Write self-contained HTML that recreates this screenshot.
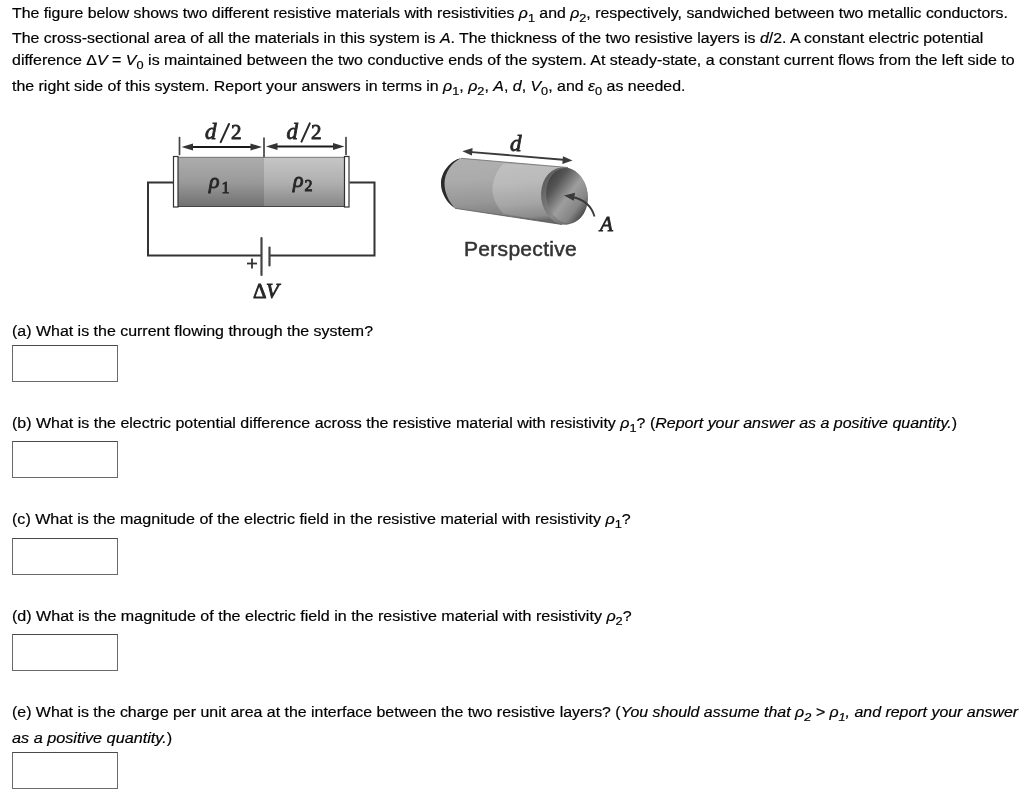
<!DOCTYPE html>
<html><head><meta charset="utf-8">
<style>
html,body{margin:0;padding:0;background:#fff;}
body{filter:grayscale(1);}
body{width:1024px;height:800px;position:relative;overflow:hidden;font-family:"Liberation Sans",sans-serif;color:#000;}
.ln{position:absolute;left:12px;white-space:nowrap;font-size:14px;line-height:16px;transform-origin:0 0;-webkit-text-stroke:0.18px #000;}
.m{font-style:italic;}
sub{font-size:80%;vertical-align:-4px;line-height:0;}
.box{position:absolute;left:12px;width:104px;height:35px;border:1px solid #6a6a6a;border-top-color:#4a4a4a;}
.lab{position:absolute;white-space:nowrap;font-family:"Liberation Serif",serif;color:#333;line-height:20px;-webkit-text-stroke:0.6px #333;}
.lab i{font-style:italic;}
</style></head><body>
<svg id="fig" width="1024" height="800" style="position:absolute;left:0;top:0">
<defs>
<linearGradient id="g1" x1="0" y1="0" x2="0" y2="1">
<stop offset="0" stop-color="#adadad"/><stop offset="0.5" stop-color="#9a9a9a"/><stop offset="1" stop-color="#707070"/></linearGradient>
<linearGradient id="g2" x1="0" y1="0" x2="0" y2="1">
<stop offset="0" stop-color="#c6c6c6"/><stop offset="0.5" stop-color="#b0b0b0"/><stop offset="1" stop-color="#868686"/></linearGradient>
<linearGradient id="pb" x1="0" y1="0" x2="0.12" y2="1">
<stop offset="0" stop-color="#b0b0b0"/><stop offset="0.35" stop-color="#ababab"/><stop offset="0.7" stop-color="#969696"/><stop offset="0.92" stop-color="#7e7e7e"/><stop offset="1" stop-color="#5e5e5e"/></linearGradient>
<linearGradient id="pb2" x1="0" y1="0" x2="0.12" y2="1">
<stop offset="0" stop-color="#c0c0c0"/><stop offset="0.35" stop-color="#bababa"/><stop offset="0.7" stop-color="#a5a5a5"/><stop offset="0.92" stop-color="#8c8c8c"/><stop offset="1" stop-color="#686868"/></linearGradient>
<linearGradient id="rim" x1="0" y1="0" x2="1" y2="1">
<stop offset="0" stop-color="#4a4a4a"/><stop offset="0.5" stop-color="#8a8a8a"/><stop offset="1" stop-color="#4a4a4a"/></linearGradient>
<linearGradient id="cap" x1="0.1" y1="0.05" x2="0.8" y2="0.95">
<stop offset="0" stop-color="#3a3a3a"/><stop offset="0.25" stop-color="#565656"/><stop offset="0.55" stop-color="#9e9e9e"/><stop offset="0.8" stop-color="#858585"/><stop offset="1" stop-color="#404040"/></linearGradient>
</defs>
<!-- circuit wires -->
<g fill="none" stroke="#333" stroke-width="2">
<path d="M173 182.5 H148 V255.5 H261.5"/>
<path d="M349.5 182.5 H374.5 V255.5 H270"/>
</g>
<g stroke="#444" stroke-width="2.2" stroke-linecap="round">
<line x1="261.5" y1="238" x2="261.5" y2="275"/>
<line x1="269.5" y1="247.5" x2="269.5" y2="265.5"/>
</g>
<g stroke="#333" stroke-width="1.8"><line x1="247" y1="263.5" x2="257" y2="263.5"/><line x1="252" y1="258.5" x2="252" y2="268.5"/></g>
<!-- cylinder -->
<rect x="178" y="157" width="86" height="50" fill="url(#g1)"/>
<rect x="264" y="157" width="81" height="50" fill="url(#g2)"/>
<line x1="178" y1="157.3" x2="345" y2="157.3" stroke="#666" stroke-width="0.8"/>
<line x1="178" y1="206.5" x2="345" y2="206.5" stroke="#444" stroke-width="1"/>
<rect x="173.5" y="156.5" width="4.5" height="50.5" fill="#fff" stroke="#333" stroke-width="1.2"/>
<rect x="344.5" y="156.5" width="4.5" height="50.5" fill="#fff" stroke="#333" stroke-width="1.2"/>
<!-- dimension -->
<g stroke="#444" stroke-width="1.7" stroke-linecap="round">
<line x1="179.5" y1="137.5" x2="179.5" y2="154.5"/>
<line x1="264" y1="138" x2="264" y2="156.5"/>
<line x1="346" y1="137.5" x2="346" y2="154.5"/>
</g>
<g stroke="#1a1a1a" stroke-width="2">
<line x1="190" y1="147" x2="254" y2="147"/>
<line x1="274" y1="146.5" x2="336" y2="146.5"/>
</g>
<g fill="#333">
<path d="M181.5 147 L193 143.5 L193 150.5 Z"/>
<path d="M262 147 L250.5 143.5 L250.5 150.5 Z"/>
<path d="M266 146.5 L277.5 143 L277.5 150 Z"/>
<path d="M344.5 146.5 L333 143 L333 150 Z"/>
</g>
<!-- perspective cylinder -->
<path d="M461 158.3 L568 167.5 L562 224.5 L455 208.3 C447 203 441 193 441 183.5 C441 172 451 160 461 158.3 Z" fill="url(#pb)"/>
<path d="M503.5 163.5 L568 167.5 L562 224.5 L503.5 213.8 C497 207 492.5 198 492.5 189.5 C492.5 180 497 170 503.5 163.5 Z" fill="url(#pb2)"/>
<path d="M461 158.3 L568 167.5" stroke="#6a6a6a" stroke-width="0.8" fill="none"/>
<path d="M455 208.3 L562 224.5" stroke="#5a5a5a" stroke-width="0.8" fill="none"/>
<path d="M461 158.3 C451 160 441 172 441 183.5 C441 193 447 203 455 208.3 C449 202 444.5 193 444.5 183.5 C444.5 173 452 162 461 158.3 Z" fill="#2a2a2a"/>
<ellipse cx="564.3" cy="196" rx="23.2" ry="28.8" transform="rotate(-7 564.3 196)" fill="url(#rim)"/>
<ellipse cx="567" cy="195.6" rx="20.8" ry="27.6" transform="rotate(-7 567 195.6)" fill="url(#cap)"/>
<g stroke="#3a3a3a" stroke-width="1.8" fill="none">
<line x1="469" y1="151.8" x2="566" y2="160"/>
<path d="M594.5 216.5 Q590 200.5 572 197"/>
</g>
<g fill="#3a3a3a">
<path d="M462.3 151.2 L472.6 147.9 L471.9 155.6 Z"/>
<path d="M572.5 160.6 L562.3 163.9 L563 156.2 Z"/>
<path d="M564 195.4 L575 192.8 L573.8 200.8 Z"/>
</g>
</svg>
<div class="ln" id="l1" style="top:5px;transform:scaleX(1.1315)">The figure below shows two different resistive materials with resistivities <span class="m">ρ</span><sub>1</sub> and <span class="m">ρ</span><sub>2</sub>, respectively, sandwiched between two metallic conductors.</div>
<div class="ln" id="l2" style="top:30px;transform:scaleX(1.1340)">The cross-sectional area of all the materials in this system is <span class="m">A</span>. The thickness of the two resistive layers is <span class="m">d</span>/2. A constant electric potential</div>
<div class="ln" id="l3" style="top:51.5px;transform:scaleX(1.1410)">difference Δ<span class="m">V</span> = <span class="m">V</span><sub>0</sub> is maintained between the two conductive ends of the system. At steady-state, a constant current flows from the left side to</div>
<div class="ln" id="l4" style="top:77.5px;transform:scaleX(1.1377)">the right side of this system. Report your answers in terms in <span class="m">ρ</span><sub>1</sub>, <span class="m">ρ</span><sub>2</sub>, <span class="m">A</span>, <span class="m">d</span>, <span class="m">V</span><sub>0</sub>, and <span class="m">ε</span><sub>0</sub> as needed.</div>

<div class="ln" id="qa" style="top:323px;transform:scaleX(1.1399)">(a) What is the current flowing through the system?</div>
<div class="box" style="top:345px"></div>
<div class="ln" id="qb" style="top:415px;transform:scaleX(1.1418)">(b) What is the electric potential difference across the resistive material with resistivity <span class="m">ρ</span><sub>1</sub>? (<i>Report your answer as a positive quantity.</i>)</div>
<div class="box" style="top:441px"></div>
<div class="ln" id="qc" style="top:511px;transform:scaleX(1.1470)">(c) What is the magnitude of the electric field in the resistive material with resistivity <span class="m">ρ</span><sub>1</sub>?</div>
<div class="box" style="top:538px"></div>
<div class="ln" id="qd" style="top:608px;transform:scaleX(1.1470)">(d) What is the magnitude of the electric field in the resistive material with resistivity <span class="m">ρ</span><sub>2</sub>?</div>
<div class="box" style="top:634px"></div>
<div class="ln" id="qe" style="top:704px;transform:scaleX(1.1369)">(e) What is the charge per unit area at the interface between the two resistive layers? (<i>You should assume that <span class="m">ρ</span><sub>2</sub> &gt; <span class="m">ρ</span><sub>1</sub>, and report your answer</i></div>
<div class="ln" id="qe2" style="top:730px;transform:scaleX(1.1580)"><i>as a positive quantity.</i>)</div>
<div class="box" style="top:752px"></div>
<svg width="1024" height="800" style="position:absolute;left:0;top:0">
<g font-family="Liberation Serif" fill="#262626" stroke="#262626" stroke-width="0.85">
<text x="205" y="139" font-size="23" font-style="italic">d</text>
<text x="231" y="139" font-size="21">2</text>
<text x="286.5" y="138.5" font-size="23" font-style="italic">d</text>
<text x="311" y="138.5" font-size="21">2</text>
<text x="209" y="188" font-size="22" font-style="italic">ρ</text>
<text x="221.5" y="192.7" font-size="16">1</text>
<text x="293" y="186.5" font-size="22" font-style="italic">ρ</text>
<text x="304.5" y="191" font-size="16">2</text>
<text x="253" y="298" font-size="21">Δ</text>
<text x="266" y="298" font-size="21" font-style="italic">V</text>
<text x="510" y="150.5" font-size="23" font-style="italic">d</text>
<text x="600" y="231" font-size="21" font-style="italic">A</text>
</g>
<g stroke="#2a2a2a" stroke-width="2" stroke-linecap="round">
<line x1="229" y1="124" x2="220.7" y2="142.2"/>
<line x1="309.8" y1="123.4" x2="301.5" y2="141.6"/>
</g>
</svg>
<div style="position:absolute;left:464px;top:239px;font-size:21px;line-height:20px;color:#333;white-space:nowrap;letter-spacing:0.3px;-webkit-text-stroke:0.5px #333">Perspective</div>
</body></html>
